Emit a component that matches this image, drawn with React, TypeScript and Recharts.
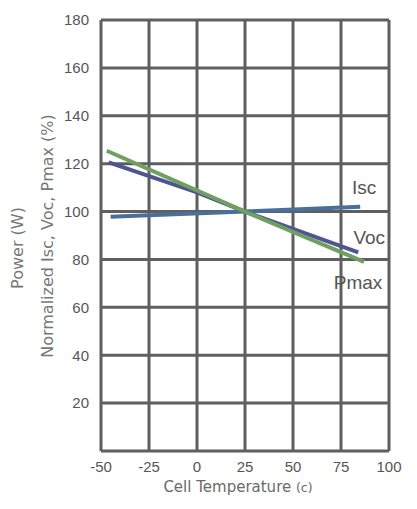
import React from 'react';
import { LineChart, Line, XAxis, YAxis, CartesianGrid, LabelList, Label } from 'recharts';

const xTicks = [-50, -25, 0, 25, 50, 75, 100];
const yTicks = [0, 20, 40, 60, 80, 100, 120, 140, 160, 180];

const iscData = [
  { t: -45, v: 97.8 },
  { t: 25, v: 100 },
  { t: 85, v: 102 },
];
const vocData = [
  { t: -46, v: 120.5 },
  { t: 0, v: 108 },
  { t: 25, v: 100 },
  { t: 84, v: 83 },
];
const pmaxData = [
  { t: -47, v: 125.4 },
  { t: 25, v: 100 },
  { t: 87, v: 79 },
];

const seriesLabel = (name: string, count: number, dx: number, dy: number) => (props: any) => {
  const { x, y, index } = props;
  if (index !== count - 1) return null;
  return (
    <text x={x + dx} y={y + dy} textAnchor="middle" dominantBaseline="central" fill="#555" fontSize={19} fontFamily="Liberation Sans, Arial, sans-serif">
      {name}
    </text>
  );
};

const xTitle = (props: any) => {
  const vb = props.viewBox || {};
  const cx = vb.x + vb.width / 2 - 7;
  return (
    <text x={cx} y={487} textAnchor="middle" dominantBaseline="central" fill="#6a6a6a" fontSize={15} fontFamily="'DejaVu Sans', sans-serif">
      Cell Temperature <tspan fontSize={12.5}>(c)</tspan>
    </text>
  );
};

export default function App() {
  return (
    <div style={{ position: 'absolute', left: 0, top: 0, width: 417, height: 509, background: '#fff' }}>
      <LineChart width={417} height={509} margin={{ top: 20, right: 28, bottom: 28, left: 61 }}>
        <CartesianGrid stroke="#5f5f60" strokeWidth={3} horizontal vertical />
        <XAxis
          dataKey="t"
          type="number"
          domain={[-50, 100]}
          ticks={xTicks}
          allowDataOverflow
          height={30}
          axisLine={false}
          tickLine={false}
          tick={{ fill: '#555', fontSize: 15, fontFamily: 'Liberation Sans, Arial, sans-serif' }}
          tickMargin={4}
        >
          <Label content={xTitle} />
        </XAxis>
        <YAxis
          dataKey="v"
          type="number"
          domain={[0, 180]}
          ticks={yTicks}
          width={40}
          axisLine={false}
          tickLine={false}
          tickFormatter={(v: number) => (v === 0 ? '' : String(v))}
          tick={{ fill: '#555', fontSize: 15, fontFamily: 'Liberation Sans, Arial, sans-serif' }}
          tickMargin={6}
        />
        <text x={17} y={248} transform="rotate(-90 17 248)" textAnchor="middle" dominantBaseline="central" fill="#777" fontSize={16} fontFamily="'DejaVu Sans', sans-serif">
          Power (W)
        </text>
        <text x={47} y={236} transform="rotate(-90 47 236)" textAnchor="middle" dominantBaseline="central" fill="#777" fontSize={16} fontFamily="'DejaVu Sans', sans-serif">
          Normalized Isc, Voc, Pmax (%)
        </text>
        <Line data={iscData} dataKey="v" stroke="#4a6f9a" strokeWidth={4} dot={false} isAnimationActive={false} type="linear">
          <LabelList dataKey="v" content={seriesLabel('Isc', iscData.length, 4, -19)} />
        </Line>
        <Line data={vocData} dataKey="v" stroke="#4e5590" strokeWidth={4} dot={false} isAnimationActive={false} type="linear">
          <LabelList dataKey="v" content={seriesLabel('Voc', vocData.length, 11, -15)} />
        </Line>
        <Line data={pmaxData} dataKey="v" stroke="#6fa060" strokeWidth={4} dot={false} isAnimationActive={false} type="linear">
          <LabelList dataKey="v" content={seriesLabel('Pmax', pmaxData.length, -6, 21)} />
        </Line>
      </LineChart>
    </div>
  );
}
